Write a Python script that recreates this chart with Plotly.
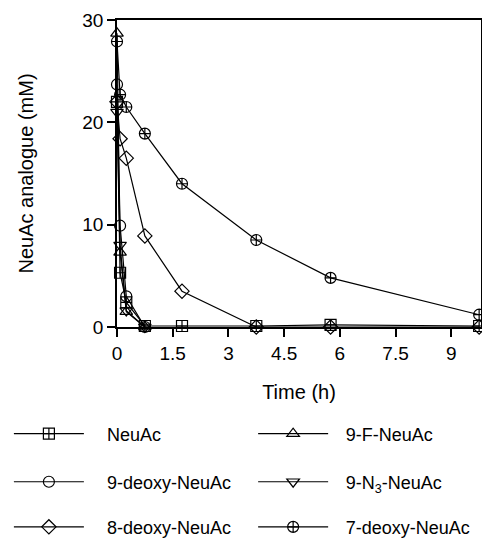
import plotly.graph_objects as go

time_h = [0, 0.083, 0.25, 0.75, 1.75, 3.75, 5.75, 9.75]
neuac = [22.0, 5.3, 2.4, 0.1, 0.1, 0.1, 0.2, 0.1]
f9 = [28.7, 7.3, 1.5, 0.0]
deoxy9 = [23.7, 9.9, 3.0, 0.0]
n3_9 = [21.0, 8.0, 1.6, 0.0]
deoxy8 = [22.0, 18.4, 16.5, 8.9, 3.5, 0.0, 0.0, 0.0]
deoxy7 = [27.9, 22.7, 21.5, 18.9, 14.0, 8.5, 4.8, 1.2]

names = ["NeuAc", "9-F-NeuAc", "9-deoxy-NeuAc", "9-N<sub>3</sub>-NeuAc", "8-deoxy-NeuAc", "7-deoxy-NeuAc"]
series = [neuac, f9, deoxy9, n3_9, deoxy8, deoxy7]
symbols = ["square-cross-open", "triangle-up-open", "circle-open", "triangle-down-open", "diamond-open", "circle-cross-open"]
legend_ids = ["legend", "legend2", "legend3", "legend4", "legend5", "legend6"]
# legend placement (paper coords): two columns, three rows
leg_x = [-0.297, 0.374, -0.297, 0.374, -0.297, 0.374]
leg_y = [-0.3485, -0.3485, -0.505, -0.505, -0.652, -0.652]
prefix = ["\u2002\u2002", "\u2002\u2009", "\u2002\u2002", "\u2002\u2009", "\u2002\u2002", "\u2002\u2009"]

fig = go.Figure()
for name, vals, sym, lg, pre in zip(names, series, symbols, legend_ids, prefix):
    fig.add_trace(go.Scatter(
        x=time_h[:len(vals)], y=vals, name=pre + name, mode="lines+markers",
        line=dict(color="black", width=1.2),
        marker=dict(symbol=sym, size=11, color="black", line=dict(width=1.2, color="black")),
        cliponaxis=False, legend=lg, showlegend=True,
    ))

font = dict(family="Arial, Liberation Sans, sans-serif", size=19, color="black")
leg_font = dict(family="Arial, Liberation Sans, sans-serif", size=18, color="black")
layout_legends = {}
for lg, lx, ly in zip(legend_ids, leg_x, leg_y):
    layout_legends[lg] = dict(orientation="h", x=lx, y=ly, xanchor="left", yanchor="middle",
                              itemwidth=70, font=leg_font, bgcolor="rgba(0,0,0,0)", borderwidth=0)

fig.update_layout(
    width=482, height=540, showlegend=True,
    margin=dict(l=117, r=1, t=20, b=213, autoexpand=False),
    paper_bgcolor="white", plot_bgcolor="white",
    font=font,
    xaxis=dict(range=[0, 9.8], tickvals=[0, 1.5, 3, 4.5, 6, 7.5, 9], ticktext=["0", "1.5", "3", "4.5", "6", "7.5", "9"],
               ticks="outside", ticklen=8, tickwidth=1.5, tickcolor="black",
               showline=True, linecolor="black", linewidth=1.5, mirror=True,
               showgrid=False, zeroline=False, automargin=False,
               title=dict(text="Time (h)", font=dict(size=20), standoff=22)),
    yaxis=dict(range=[0, 30], tickvals=[0, 10, 20, 30],
               ticks="outside", ticklen=8, tickwidth=1.5, tickcolor="black",
               showline=True, linecolor="black", linewidth=1.5, mirror=True,
               showgrid=False, zeroline=False, automargin=False,
               title=dict(text="NeuAc analogue (mM)", font=dict(size=20), standoff=43)),
    **layout_legends,
)
fig.write_html("out.html", config={"displayModeBar": False},
               post_script="document.body.style.margin='0px';document.body.style.overflow='hidden';")
